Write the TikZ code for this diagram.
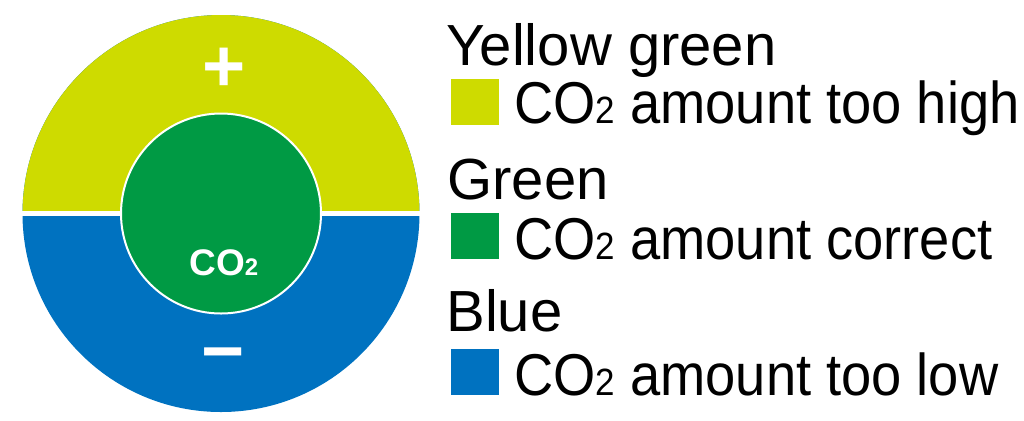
\documentclass[tikz,border=0pt]{standalone}
\usepackage{fontspec}
\setmainfont{Liberation Sans}
\newfontfamily\legendfont[FakeStretch=0.92]{Liberation Sans}
\usetikzlibrary{positioning}
\definecolor{coYellowGreen}{RGB}{206, 219, 0}
\definecolor{coGreen}{RGB}{0, 154, 68}
\definecolor{coBlue}{RGB}{0, 114, 192}
\newcommand{\cotwo}[1]{CO{\fontsize{#1}{#1}\selectfont 2}}

\begin{document}
\begin{tikzpicture}[x=0.5pt,y=-0.5pt,
  heading/.style={anchor=base west,inner sep=0pt,font=\fontsize{29}{34}\selectfont},
  itemtext/.style={anchor=base west,inner sep=0pt,font=\legendfont\fontsize{29.5}{34}\selectfont},
  swatch/.style={anchor=north west,inner sep=0pt,minimum width=24pt,minimum height=23pt},
  sign/.style={inner sep=0pt,text=white,font=\bfseries\fontsize{37}{40}\selectfont}
]
  \useasboundingbox (0,0) rectangle (1024,420);
  % outer disc, split in two halves
  \fill[coBlue] (221,213.5) circle[radius=198.5];
  \begin{scope}
    \clip (0,0) rectangle (1024,213.5);
    \fill[coYellowGreen] (221,213.5) circle[radius=198.5];
  \end{scope}
  \draw[white,line width=2.5pt] (18,213.5) -- (424,213.5);
  % inner disc
  \filldraw[fill=coGreen,draw=white,line width=1pt] (221,213.5) circle[radius=100];
  \node[sign] (plus) at (224,70) {+};
  \node[sign] (minus) at (223.5,362) {−};
  \node[anchor=base west,inner sep=0pt,text=white,font=\bfseries\fontsize{18.5}{22}\selectfont] (centre) at (189,275.5) {\cotwo{12}};
  % legend
  \node[heading] (titleHigh) at (446,65) {Yellow green};
  \node[swatch,fill=coYellowGreen] (swatchHigh) at (451,79) {};
  \node[itemtext] (itemHigh) at (514,123) {\cotwo{19} amount too high};
  \node[heading] (titleOk) at (447,199) {Green};
  \node[swatch,fill=coGreen] (swatchOk) at (451,213) {};
  \node[itemtext] (itemOk) at (514,259) {\cotwo{19} amount correct};
  \node[heading] (titleLow) at (446,331) {Blue};
  \node[swatch,fill=coBlue] (swatchLow) at (451,349) {};
  \node[itemtext] (itemLow) at (514,395) {\cotwo{19} amount too low};
\end{tikzpicture}
\end{document}
